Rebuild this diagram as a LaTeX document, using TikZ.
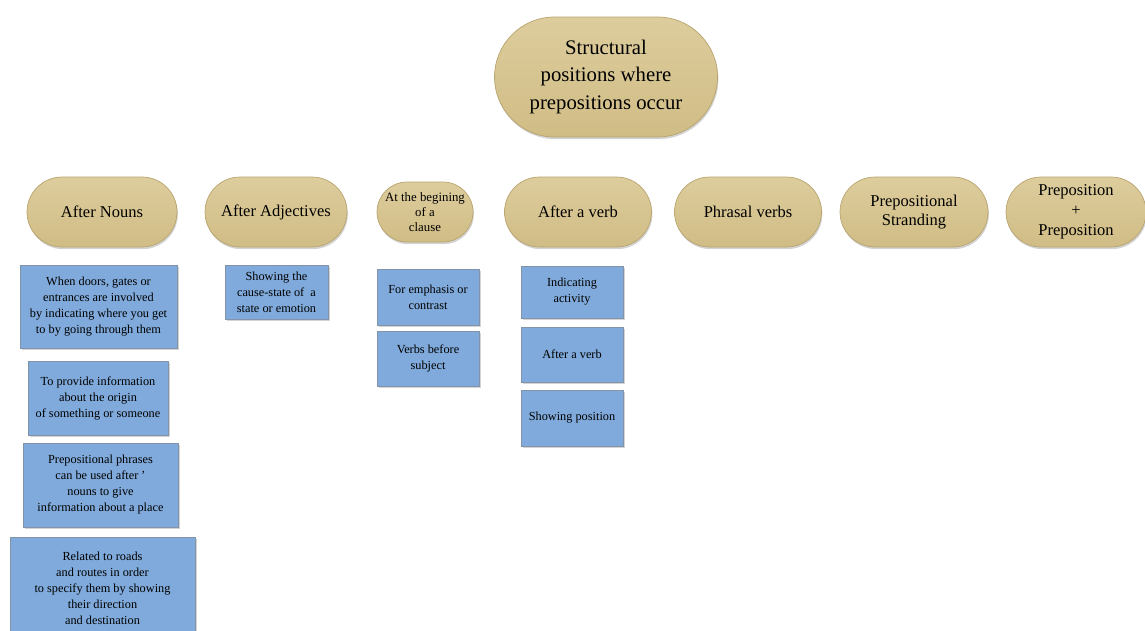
\documentclass[tikz,border=0pt]{standalone}
\usepackage{fontspec}
\setmainfont{Liberation Serif}
\usetikzlibrary{shadows}
\definecolor{tantop}{HTML}{DDCD9D}
\definecolor{tanbot}{HTML}{D0BC85}
\definecolor{tanline}{HTML}{B8A46E}
\definecolor{blu}{HTML}{80AADB}
\definecolor{bluline}{HTML}{8494A8}
\begin{document}
\begin{tikzpicture}[x=0.02cm, y=-0.02cm,
  posn/.style={draw=tanline, top color=tantop, bottom color=tanbot, rounded corners=0.7cm,
    minimum height=1.4cm, inner sep=0pt, align=center,
    drop shadow={shadow xshift=0.5pt, shadow yshift=-1.2pt, opacity=.35},
    font=\fontsize{9.4}{11.3}\selectfont},
  usage/.style={draw=bluline, fill=blu, inner sep=0pt, align=center,
    drop shadow={shadow xshift=1pt, shadow yshift=-1pt, opacity=.35},
    font=\fontsize{7}{9.1}\selectfont}]
\useasboundingbox (0,0) rectangle (1145,630);

\node[posn, minimum width=4.46cm, minimum height=2.4cm, rounded corners=1.2cm,
  font=\fontsize{11.8}{15.9}\selectfont] (top) at (606,77)
  {Structural\\positions where\\prepositions occur};

\node[posn, minimum width=3cm] (nouns) at (102,212) {After Nouns};
\node[posn, minimum width=2.84cm] (adj) at (276,212) {After Adjectives};
\node[posn, minimum width=1.92cm, minimum height=1.2cm, rounded corners=0.6cm,
  font=\fontsize{7.3}{8.6}\selectfont] (clause) at (425,212) {At the begining\\of a\\clause};
\node[posn, minimum width=2.94cm] (verb) at (578,212) {After a verb};
\node[posn, minimum width=2.94cm] (phrasal) at (748,212) {Phrasal verbs};
\node[posn, minimum width=2.96cm, font=\fontsize{9.4}{10.4}\selectfont] (strand) at (914,212)
  {Prepositional\\Stranding};
\node[posn, minimum width=2.8cm] (prepprep) at (1076,212) {Preposition\\+\\Preposition};

\node[usage, minimum width=3.14cm, minimum height=1.66cm] (nouns1) at (98.5,306.5)
  {When doors, gates or\\entrances are involved\\by indicating where you get\\to by going through them};
\node[usage, minimum width=2.8cm, minimum height=1.48cm] (nouns2) at (98,398)
  {To provide information\\about the origin\\of something or someone};
\node[usage, minimum width=3.1cm, minimum height=1.68cm] (nouns3) at (100.5,485)
  {Prepositional phrases\\can be used after '\\nouns to give\\information about a place};
\node[usage, minimum width=3.7cm, minimum height=2.06cm] (nouns4) at (102.5,588.5)
  {Related to roads\\and routes in order\\to specify them by showing\\their direction\\and destination};

\node[usage, minimum width=2.06cm, minimum height=1.08cm] (adj1) at (276.5,292)
  {Showing the\\cause-state of~ a\\state or emotion};

\node[usage, minimum width=2.04cm, minimum height=1.12cm] (clause1) at (428,297)
  {For emphasis or\\contrast};
\node[usage, minimum width=2.04cm, minimum height=1.1cm] (clause2) at (428,358.5)
  {Verbs before\\subject};

\node[usage, minimum width=2.04cm, minimum height=1.04cm] (verb1) at (572,292)
  {Indicating\\activity};
\node[usage, minimum width=2.04cm, minimum height=1.1cm] (verb2) at (572,354.5)
  {After a verb};
\node[usage, minimum width=2.04cm, minimum height=1.12cm] (verb3) at (572,418)
  {Showing position};
\end{tikzpicture}
\end{document}
